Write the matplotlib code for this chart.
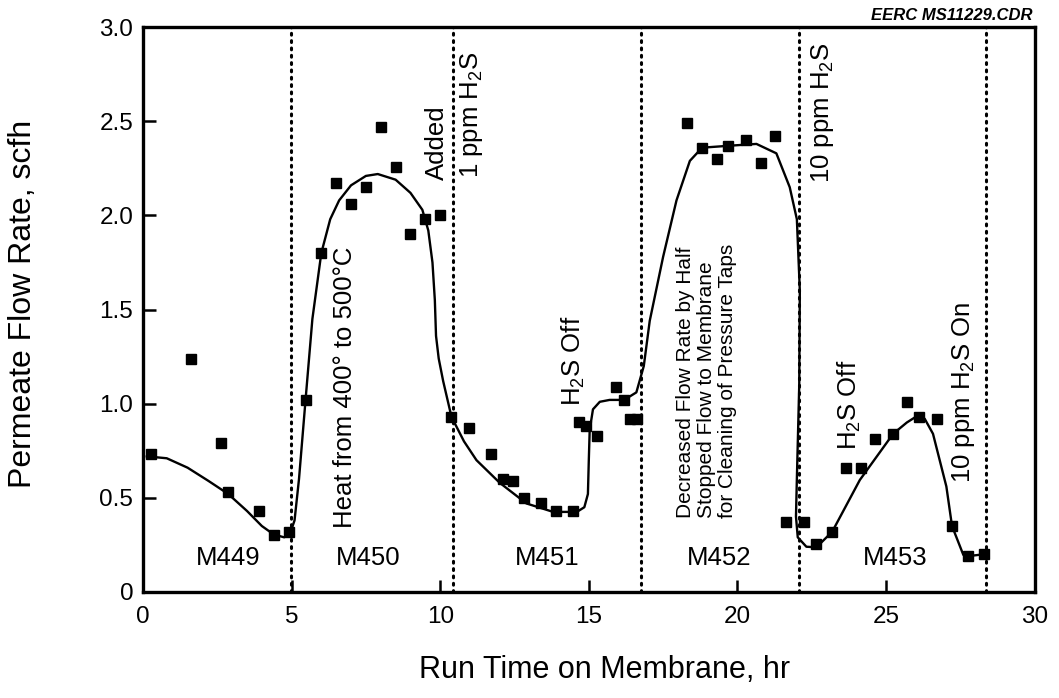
"""
Permeate flow rate vs run time on membrane (recreated chart).
"""

import matplotlib
matplotlib.use("Agg")
import matplotlib.pyplot as plt
from matplotlib.ticker import FixedLocator, FuncFormatter

plt.rcParams["font.family"] = ["Liberation Sans", "DejaVu Sans"]
plt.rcParams["mathtext.fontset"] = "custom"
plt.rcParams["mathtext.rm"] = "Liberation Sans"
plt.rcParams["mathtext.it"] = "Liberation Sans:italic"
plt.rcParams["mathtext.bf"] = "Liberation Sans:bold"

# --- datos medidos ------------------------------------------------------
tiempo_hr = [0.27, 1.6, 2.62, 2.87, 3.9, 4.41, 4.9,
             5.47, 5.99, 6.51, 7.0, 7.5, 8.0, 8.5, 8.98, 9.5, 9.99,
             10.38, 10.98, 11.7, 12.12, 12.45, 12.81, 13.38, 13.91, 14.47,
             14.68, 14.92, 15.28, 15.93, 16.19, 16.4, 16.62,
             18.31, 18.81, 19.3, 19.69, 20.3, 20.79, 21.26,
             21.65, 22.24, 22.64, 23.19, 23.67, 24.15, 24.62, 25.24,
             25.71, 26.11, 26.73, 27.22, 27.76, 28.3]
flujo_scfh = [0.73, 1.24, 0.79, 0.53, 0.43, 0.30, 0.32,
              1.02, 1.80, 2.17, 2.06, 2.15, 2.47, 2.26, 1.90, 1.98, 2.00,
              0.93, 0.87, 0.73, 0.60, 0.59, 0.50, 0.47, 0.43, 0.43,
              0.90, 0.88, 0.83, 1.09, 1.02, 0.92, 0.92,
              2.49, 2.36, 2.30, 2.37, 2.40, 2.28, 2.42,
              0.37, 0.37, 0.255, 0.32, 0.66, 0.66, 0.81, 0.84,
              1.01, 0.93, 0.92, 0.35, 0.19, 0.20]

# curva de tendencia (trazada a mano en el original)
curva_x = [0.13, 0.8, 1.5, 2.2, 2.87, 3.5, 4.0, 4.4, 4.75, 4.95, 5.1, 5.25,
           5.47, 5.7, 6.0, 6.3, 6.6, 7.0, 7.5, 7.9, 8.5, 9.0, 9.4, 9.6, 9.74,
           9.82, 9.86, 9.95, 10.1, 10.38, 10.8, 11.22, 12.0, 12.9, 13.8, 14.6,
           14.85, 14.97, 15.0, 15.03, 15.14, 15.37, 15.7, 16.19, 16.6, 16.85,
           17.05, 17.5, 17.95, 18.4, 18.81, 19.69, 20.64, 21.31, 21.76, 22.0,
           22.1, 22.08, 22.0, 21.97, 22.03, 22.32, 22.66, 23.19, 24.12, 25.24,
           25.7, 26.05, 26.3, 26.58, 27.03, 27.22, 27.6, 27.76, 28.3]
curva_y = [0.72, 0.71, 0.66, 0.59, 0.52, 0.43, 0.35, 0.305, 0.29, 0.31, 0.38, 0.6,
           1.02, 1.45, 1.80, 1.98, 2.08, 2.16, 2.21, 2.22, 2.19, 2.12, 2.03, 1.92, 1.75,
           1.55, 1.36, 1.24, 1.12, 0.93, 0.80, 0.70, 0.58, 0.47, 0.425, 0.425,
           0.45, 0.52, 0.70, 0.86, 0.97, 1.01, 1.02, 1.02, 1.06, 1.20,
           1.44, 1.78, 2.08, 2.29, 2.36, 2.37, 2.38, 2.33, 2.15, 1.98,
           1.60, 1.10, 0.60, 0.40, 0.29, 0.24, 0.237, 0.32, 0.595, 0.84,
           0.90, 0.935, 0.92, 0.84, 0.56, 0.35, 0.197, 0.19, 0.20]

cambios_hr = [4.98, 10.44, 16.74, 22.07, 28.38]

corridas = ["M449", "M450", "M451", "M452", "M453"]
corridas_x = [2.86, 7.58, 13.6, 19.39, 25.31]

h2s = r"H$_\mathregular{2}$S"
notas = [
    ("Heat from 400° to 500°C", 6.8, 0.34),
    ("Added", 9.9, 2.19),
    ("1 ppm " + h2s, 11.07, 2.20),
    (h2s + " Off", 14.47, 0.99),
    ("10 ppm " + h2s, 22.86, 2.17),
    (h2s + " Off", 23.78, 0.755),
    ("10 ppm " + h2s + " On", 27.6, 0.58),
]
nota_flujo = ("Decreased Flow Rate by Half\n"
              "Stopped Flow to Membrane\n"
              "for Cleaning of Pressure Taps")

# --- figura -------------------------------------------------------------
fig = plt.figure(figsize=(10.59, 6.98), dpi=100)
ax = fig.add_axes([0.135, 0.152, 0.842, 0.809])

for xc in cambios_hr:
    ax.plot([xc, xc], [0, 3], color="black", linestyle=(0, (0.6, 1.8)),
            linewidth=2.2, dash_capstyle="round")

ax.plot(curva_x, curva_y, color="black", linewidth=1.7)
ax.plot(tiempo_hr, flujo_scfh, linestyle="none", marker="s", markersize=7.5,
        color="black")

for texto, xt, yt in notas:
    ax.text(xt, yt, texto, rotation=90, ha="center", va="bottom", fontsize=18.5)
ax.text(18.96, 0.39, nota_flujo, rotation=90, ha="center", va="bottom",
        multialignment="left", fontsize=15, linespacing=1.12)

for etiqueta, xt in zip(corridas, corridas_x):
    ax.text(xt, 0.143, etiqueta, ha="center", va="baseline", fontsize=18.5)

ax.set_xlim(0, 30)
ax.set_ylim(0, 3)
ax.xaxis.set_major_locator(FixedLocator([0, 5, 10, 15, 20, 25, 30]))
ax.yaxis.set_major_locator(FixedLocator([0, 0.5, 1.0, 1.5, 2.0, 2.5, 3.0]))
ax.yaxis.set_major_formatter(FuncFormatter(lambda v, p: "0" if v == 0 else f"{v:.1f}"))
ax.tick_params(direction="in", length=9, width=1.8, labelsize=17.5)
ax.tick_params(axis="x", pad=10)
ax.tick_params(axis="y", pad=7)
for lado in ax.spines.values():
    lado.set_linewidth(2.4)

ax.set_xlabel("Run Time on Membrane, hr", fontsize=22)
ax.set_ylabel("Permeate Flow Rate, scfh", fontsize=23)
ax.xaxis.set_label_coords(0.518, -0.112)
ax.yaxis.set_label_coords(-0.118, 0.51)

fig.text(0.975, 0.972, "EERC MS11229.CDR", ha="right", va="baseline",
         fontsize=12, fontweight="bold", fontstyle="italic")

fig.savefig("out.png", dpi=100)
